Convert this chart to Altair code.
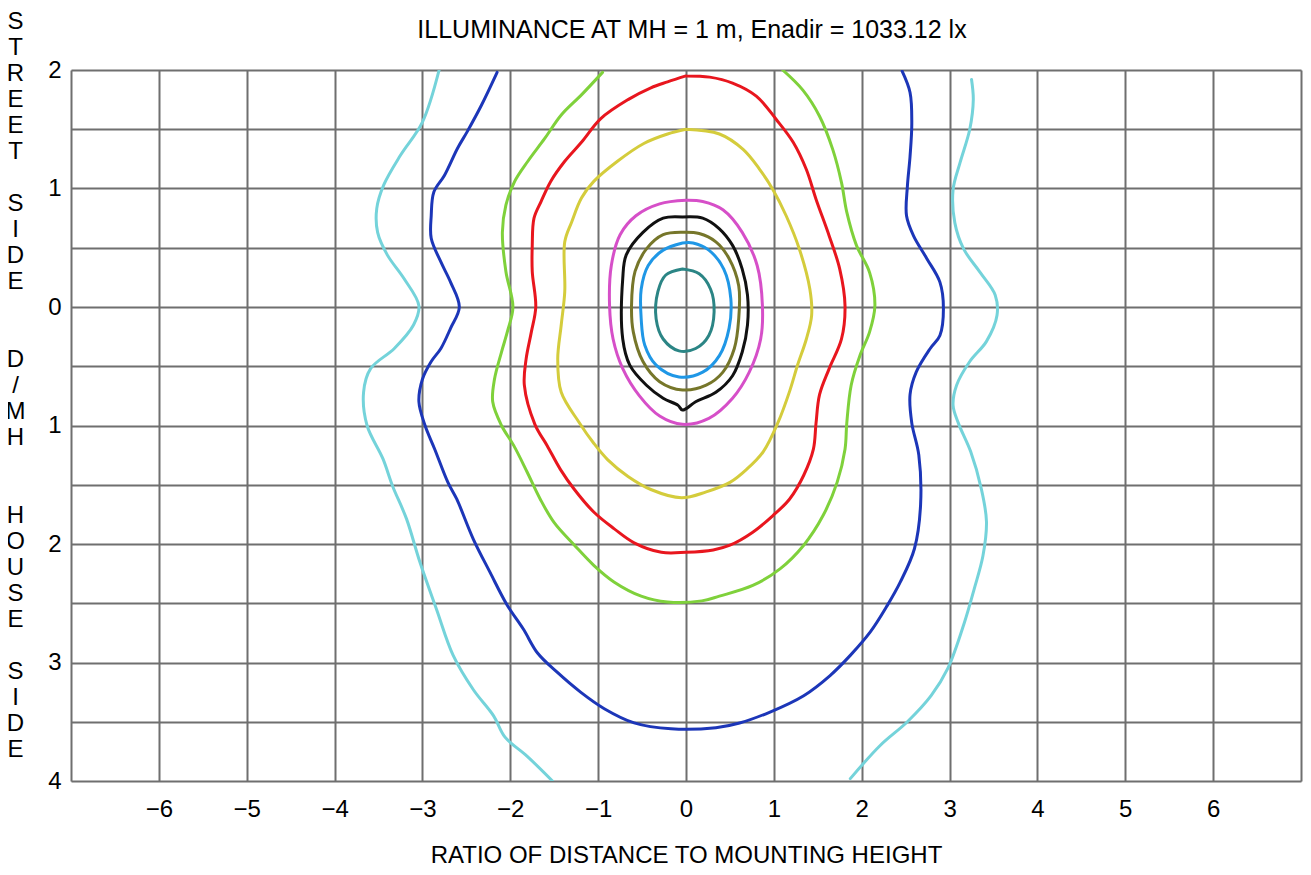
import altair as alt
import pandas as pd

FONT = "Liberation Sans"

# ---- contour traces (x = D/MH lateral, y = D/MH, street side positive) ----
cyan_left_x = [-2.81, -3.00, -3.25, -3.44, -3.52, -3.51, -3.40, -3.21, -3.04, -3.10, -3.32, -3.59, -3.67,
               -3.63, -3.45, -3.34, -3.18, -3.03, -2.84, -2.65, -2.42, -2.19, -2.06, -1.81, -1.52]
cyan_left_y = [2.00, 1.56, 1.28, 1.03, 0.83, 0.63, 0.44, 0.24, 0.01, -0.15, -0.35, -0.52, -0.72,
               -1.00, -1.28, -1.51, -1.79, -2.15, -2.55, -2.94, -3.23, -3.45, -3.63, -3.79, -4.00]

cyan_right_x = [3.25, 3.27, 3.23, 3.12, 3.04, 3.06, 3.16, 3.35, 3.52, 3.54, 3.42, 3.23, 3.08, 3.04, 3.10,
                3.24, 3.36, 3.42, 3.38, 3.28, 3.17, 2.98, 2.79, 2.52, 2.21, 1.87]
cyan_right_y = [1.92, 1.75, 1.50, 1.22, 0.99, 0.71, 0.49, 0.29, 0.10, -0.07, -0.29, -0.46, -0.66, -0.83, -0.98,
                -1.22, -1.53, -1.81, -2.10, -2.38, -2.66, -3.05, -3.28, -3.50, -3.70, -3.98]

blue_x = [-2.15, -2.33, -2.49, -2.60, -2.75, -2.87, -2.90, -2.90, -2.79, -2.68, -2.58, -2.68, -2.79, -2.90,
          -3.00, -3.04, -2.97, -2.86, -2.71, -2.61, -2.42, -2.23, -2.04, -1.85, -1.69, -1.47, -1.20, -0.93,
          -0.59, -0.17, 0.34, 0.61, 0.95, 1.34, 1.64, 1.87, 2.10, 2.29, 2.44, 2.60, 2.67, 2.65, 2.57, 2.55,
          2.62, 2.78, 2.89, 2.93, 2.89, 2.74, 2.59, 2.51, 2.52, 2.55, 2.57, 2.55, 2.46]
blue_y = [1.98, 1.70, 1.48, 1.34, 1.11, 0.97, 0.77, 0.58, 0.38, 0.21, 0.00, -0.18, -0.35, -0.46,
          -0.61, -0.80, -1.00, -1.20, -1.48, -1.62, -1.96, -2.24, -2.51, -2.72, -2.92, -3.08, -3.25, -3.39,
          -3.51, -3.56, -3.55, -3.51, -3.42, -3.28, -3.11, -2.94, -2.74, -2.52, -2.32, -2.04, -1.67, -1.25,
          -0.98, -0.74, -0.55, -0.35, -0.24, -0.01, 0.21, 0.41, 0.60, 0.77, 1.02, 1.27, 1.55, 1.81, 1.99]

green_x = [-0.95, -1.19, -1.42, -1.61, -1.80, -1.95, -2.05, -2.09, -2.05, -1.97, -2.03, -2.10, -2.18, -2.20,
           -2.10, -1.96, -1.81, -1.66, -1.50, -1.27, -1.05, -0.82, -0.51, -0.21, 0.18, 0.38, 0.76, 1.07,
           1.34, 1.56, 1.72, 1.81, 1.83, 1.88, 1.98, 2.09, 2.15, 2.09, 1.94, 1.83, 1.77, 1.67, 1.52, 1.33,
           1.10]
green_y = [1.98, 1.79, 1.62, 1.42, 1.23, 1.06, 0.86, 0.63, 0.30, 0.00, -0.20, -0.38, -0.61, -0.80,
           -1.00, -1.17, -1.39, -1.62, -1.82, -2.01, -2.18, -2.32, -2.44, -2.49, -2.48, -2.44, -2.35, -2.21,
           -2.01, -1.76, -1.48, -1.20, -0.98, -0.66, -0.41, -0.21, 0.01, 0.29, 0.52, 0.80, 1.05, 1.33, 1.61,
           1.83, 2.00]

red_x = [0.00, 0.27, 0.53, 0.80, 1.03, 1.22, 1.37, 1.48, 1.63, 1.75, 1.81, 1.77, 1.63, 1.52, 1.48, 1.45,
         1.34, 1.18, 0.99, 0.76, 0.50, 0.31, 0.00, -0.28, -0.59, -0.82, -1.05, -1.27, -1.43, -1.58, -1.72,
         -1.84, -1.82, -1.76, -1.71, -1.75, -1.75, -1.73, -1.65, -1.54, -1.38, -1.19, -0.97, -0.66, -0.40,
         -0.21, 0.00]
red_y = [1.95, 1.94, 1.89, 1.78, 1.58, 1.39, 1.16, 0.91, 0.60, 0.32, 0.01, -0.27, -0.52, -0.74, -0.98, -1.20,
         -1.42, -1.62, -1.76, -1.90, -2.01, -2.05, -2.07, -2.07, -1.99, -1.87, -1.73, -1.54, -1.37, -1.17, -0.99,
         -0.66, -0.44, -0.21, 0.00, 0.30, 0.52, 0.75, 0.89, 1.06, 1.23, 1.39, 1.59, 1.75, 1.85,
         1.90, 1.95]

yellow_x = [0.00, 0.38, 0.65, 0.84, 0.99, 1.14, 1.29, 1.41, 1.43, 1.37, 1.27, 1.18, 1.05, 0.88, 0.69, 0.50,
            0.23, -0.05, -0.40, -0.66, -0.89, -1.05, -1.22, -1.42, -1.46, -1.42, -1.38, -1.38, -1.30, -1.19,
            -1.05, -0.78, -0.48, -0.21, 0.00]
yellow_y = [1.50, 1.46, 1.33, 1.16, 0.99, 0.77, 0.49, 0.15, -0.07, -0.27, -0.49, -0.71, -0.97, -1.22, -1.37,
            -1.48, -1.56, -1.61, -1.54, -1.43, -1.29, -1.15, -0.97, -0.72, -0.44, -0.15, 0.13, 0.55, 0.72, 0.92,
            1.06, 1.23, 1.38, 1.46, 1.50]

magenta_x = [0.00, -0.30, -0.57, -0.75, -0.85, -0.87, -0.83, -0.72, -0.53, -0.30, -0.04, 0.26, 0.53, 0.72,
             0.85, 0.87, 0.81, 0.64, 0.42, 0.19, 0.00]
magenta_y = [0.90, 0.87, 0.77, 0.61, 0.35, 0.01, -0.27, -0.52, -0.75, -0.92, -0.99, -0.94, -0.77, -0.55,
             -0.27, 0.01, 0.35, 0.63, 0.82, 0.89, 0.90]

black_x = [-0.04, -0.26, -0.49, -0.68, -0.72, -0.72, -0.64, -0.45, -0.26, -0.09, -0.04, 0.11, 0.34, 0.53,
           0.64, 0.70, 0.70, 0.64, 0.53, 0.38, 0.19, -0.04]
black_y = [0.76, 0.75, 0.63, 0.44, 0.24, -0.27, -0.49, -0.66, -0.77, -0.83, -0.87, -0.80, -0.72, -0.58,
           -0.38, -0.15, 0.10, 0.32, 0.52, 0.66, 0.75, 0.76]

olive_x = [-0.04, -0.26, -0.45, -0.58, -0.62, -0.60, -0.49, -0.30, -0.04, 0.23, 0.42, 0.55, 0.60, 0.60,
           0.49, 0.34, 0.15, -0.04]
olive_y = [0.63, 0.61, 0.49, 0.30, 0.01, -0.21, -0.46, -0.63, -0.70, -0.66, -0.55, -0.35, -0.10, 0.18,
           0.41, 0.55, 0.62, 0.63]

azure_x = [-0.04, -0.26, -0.43, -0.51, -0.51, -0.47, -0.34, -0.08, 0.19, 0.38, 0.49, 0.51, 0.43, 0.26,
           0.08, -0.04]
azure_y = [0.54, 0.48, 0.35, 0.15, -0.10, -0.32, -0.49, -0.59, -0.55, -0.41, -0.18, 0.07, 0.32, 0.48,
           0.54, 0.54]

teal_x = [-0.04, -0.23, -0.32, -0.34, -0.26, -0.08, 0.11, 0.26, 0.32, 0.28, 0.15, -0.04]
teal_y = [0.32, 0.27, 0.13, -0.10, -0.27, -0.37, -0.35, -0.24, -0.04, 0.15, 0.28, 0.32]

levels = ["cyan", "blue", "green", "red", "yellow", "magenta", "black", "olive", "azure", "teal"]
colors = ["#74d3da", "#1c36b8", "#7fd13b", "#e8161e", "#d4cc3c", "#d64fc8", "#111111", "#76762a",
          "#1f97e6", "#2b8585"]

pieces = [
    ("cyan_l", "cyan", cyan_left_x, cyan_left_y),
    ("cyan_r", "cyan", cyan_right_x, cyan_right_y),
    ("blue", "blue", blue_x, blue_y),
    ("green", "green", green_x, green_y),
    ("red", "red", red_x, red_y),
    ("yellow", "yellow", yellow_x, yellow_y),
    ("magenta", "magenta", magenta_x, magenta_y),
    ("black", "black", black_x, black_y),
    ("olive", "olive", olive_x, olive_y),
    ("azure", "azure", azure_x, azure_y),
    ("teal", "teal", teal_x, teal_y),
]

rows = []
for name, lvl, xs, ys in pieces:
    for i, (xv, yv) in enumerate(zip(xs, ys)):
        rows.append({"piece": name, "level": lvl, "i": i, "x": xv, "y": yv})
df = pd.DataFrame(rows)

x_ticks = list(range(-7, 8))
y_ticks = [v / 2 for v in range(-8, 5)]

B = "\u200b"
y_title = ["S", "T", "R", "E", "E", "T", B, "S", "I", "D", "E", B, B, "D", "/", "M", "H", B, B,
           "H", "O", "U", "S", "E", B, "S", "I", "D", "E"]

chart = alt.Chart(df).mark_line(strokeWidth=3, clip=True, strokeJoin="round", strokeCap="round",
                                interpolate="catmull-rom").encode(
    x=alt.X("x:Q", scale=alt.Scale(domain=[-7, 7], nice=False, zero=False),
            axis=alt.Axis(values=x_ticks, labelExpr="abs(datum.value) < 7 ? datum.label : ''",
                          title="RATIO OF DISTANCE TO MOUNTING HEIGHT", grid=True, gridColor="#6f6f6f",
                          gridWidth=2, ticks=False, domain=False, labelFontSize=24, labelFont=FONT,
                          labelColor="black", labelPadding=16, labelFlush=False,
                          titleFont=FONT, titleFontSize=24, titleFontWeight="normal", titleColor="black",
                          titlePadding=22)),
    y=alt.Y("y:Q", scale=alt.Scale(domain=[-4, 2], nice=False, zero=False),
            axis=alt.Axis(values=y_ticks, labelExpr="datum.value % 1 == 0 ? abs(datum.value) : ''",
                          grid=True, gridColor="#6f6f6f", gridWidth=2, ticks=False, domain=False,
                          labelFontSize=24, labelFont=FONT, labelColor="black", labelPadding=10,
                          labelFlush=False,
                          title=y_title, titleAngle=0, titleAlign="center", titleBaseline="top",
                          titleX=-56, titleY=-61, titleFont=FONT, titleFontSize=24,
                          titleFontWeight="normal", titleColor="black", titleLineHeight=26)),
    color=alt.Color("level:N", scale=alt.Scale(domain=levels, range=colors), legend=None),
    detail="piece:N",
    order="i:Q",
).properties(
    width=1230,
    height=711,
    autosize=alt.AutoSizeParams(type="none"),
    padding={"left": 63, "top": 62, "right": 2, "bottom": 86},
    title=alt.TitleParams("ILLUMINANCE AT MH = 1 m, Enadir = 1033.12 lx", font=FONT, fontSize=25,
                          fontWeight="normal", color="black", anchor="middle", baseline="alphabetic",
                          frame="group", offset=0, dx=6, dy=54),
).configure_view(stroke="black", strokeWidth=3).configure(background="white")

chart.save("out.html", embed_options={"renderer": "svg", "actions": False})
